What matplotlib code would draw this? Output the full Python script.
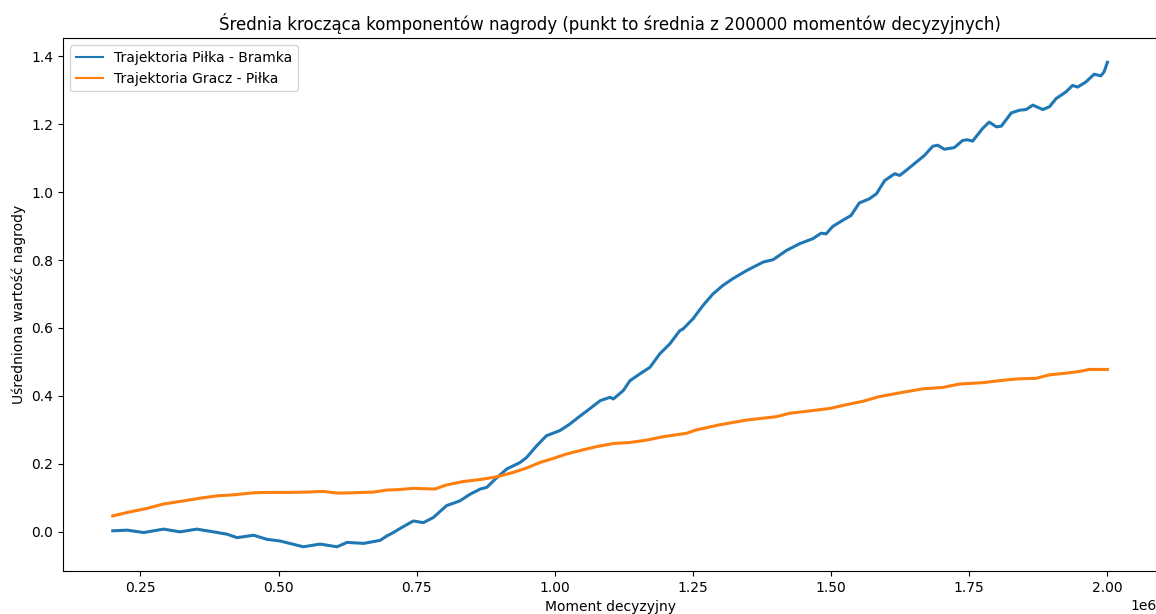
import numpy as np
import matplotlib
matplotlib.use("Agg")
import matplotlib.pyplot as plt

# ==============================
# DATA (x in millions of steps)
# ==============================

x_pilka_bramka = [0.200, 0.226, 0.256, 0.292, 0.322, 0.352, 0.382, 0.407, 0.425, 0.455,
                  0.479, 0.503, 0.545, 0.575, 0.606, 0.624, 0.654, 0.684, 0.696, 0.708,
                  0.720, 0.744, 0.762, 0.780, 0.804, 0.828, 0.847, 0.865, 0.877, 0.892,
                  0.913, 0.937, 0.949, 0.967, 0.985, 1.009, 1.027, 1.045, 1.063, 1.082,
                  1.100, 1.106, 1.124, 1.136, 1.154, 1.172, 1.190, 1.208, 1.226, 1.232,
                  1.250, 1.268, 1.286, 1.304, 1.322, 1.347, 1.359, 1.377, 1.395, 1.419,
                  1.443, 1.467, 1.482, 1.491, 1.503, 1.521, 1.536, 1.551, 1.569, 1.582,
                  1.597, 1.615, 1.624, 1.636, 1.654, 1.669, 1.684, 1.693, 1.705, 1.723,
                  1.738, 1.747, 1.756, 1.774, 1.786, 1.799, 1.808, 1.826, 1.841, 1.853,
                  1.865, 1.883, 1.895, 1.907, 1.925, 1.937, 1.946, 1.961, 1.976, 1.988,
                  1.994, 2.000]
y_pilka_bramka = [0.003, 0.005, -0.002, 0.008, 0.000, 0.008, 0.000, -0.007, -0.017, -0.010,
                  -0.022, -0.027, -0.044, -0.036, -0.044, -0.031, -0.034, -0.025, -0.012, -0.002,
                  0.010, 0.032, 0.027, 0.042, 0.077, 0.091, 0.111, 0.126, 0.131, 0.155,
                  0.185, 0.204, 0.219, 0.253, 0.283, 0.298, 0.317, 0.340, 0.362, 0.386,
                  0.396, 0.391, 0.416, 0.445, 0.465, 0.484, 0.524, 0.553, 0.592, 0.597,
                  0.627, 0.666, 0.700, 0.725, 0.745, 0.769, 0.779, 0.794, 0.801, 0.828,
                  0.848, 0.863, 0.879, 0.877, 0.899, 0.917, 0.931, 0.968, 0.980, 0.995,
                  1.034, 1.054, 1.049, 1.064, 1.088, 1.108, 1.135, 1.138, 1.126, 1.131,
                  1.152, 1.154, 1.150, 1.187, 1.206, 1.192, 1.194, 1.233, 1.241, 1.243,
                  1.256, 1.243, 1.251, 1.275, 1.295, 1.314, 1.309, 1.324, 1.347, 1.342,
                  1.354, 1.382]

x_gracz_pilka = [0.200, 0.226, 0.262, 0.292, 0.328, 0.358, 0.389, 0.419, 0.455, 0.479,
                 0.515, 0.551, 0.581, 0.606, 0.636, 0.672, 0.696, 0.714, 0.744, 0.783,
                 0.804, 0.834, 0.865, 0.895, 0.925, 0.949, 0.973, 0.997, 1.021, 1.045,
                 1.076, 1.106, 1.136, 1.166, 1.196, 1.238, 1.256, 1.298, 1.347, 1.401,
                 1.425, 1.467, 1.497, 1.527, 1.557, 1.587, 1.624, 1.666, 1.702, 1.732,
                 1.774, 1.805, 1.835, 1.871, 1.895, 1.925, 1.949, 1.967, 2.000]
y_gracz_pilka = [0.047, 0.057, 0.069, 0.082, 0.091, 0.099, 0.106, 0.109, 0.115, 0.116,
                 0.116, 0.117, 0.119, 0.114, 0.115, 0.117, 0.123, 0.124, 0.128, 0.126,
                 0.138, 0.148, 0.154, 0.162, 0.175, 0.188, 0.204, 0.216, 0.229, 0.239,
                 0.251, 0.260, 0.263, 0.270, 0.280, 0.290, 0.300, 0.315, 0.329, 0.339,
                 0.349, 0.357, 0.363, 0.374, 0.384, 0.398, 0.409, 0.421, 0.425, 0.435,
                 0.439, 0.445, 0.450, 0.452, 0.462, 0.467, 0.472, 0.478, 0.478]

# ==============================
# PLOT
# ==============================

fig = plt.figure(figsize=(11.56, 6.14), dpi=100)
ax = fig.add_axes([0.0545, 0.070, 0.9465, 0.868])
# original is cropped right at the right spine
ax.spines["right"].set_visible(False)

ax.plot(np.array(x_pilka_bramka) * 1e6, y_pilka_bramka, color="#1f77b4",
        lw=2.2, label="Trajektoria Piłka - Bramka")
ax.plot(np.array(x_gracz_pilka) * 1e6, y_gracz_pilka, color="#ff7f0e",
        lw=2.2, label="Trajektoria Gracz - Piłka")

ax.set_title("Średnia krocząca komponentów nagrody (punkt to średnia z 200000 momentów decyzyjnych)")
ax.set_xlabel("Moment decyzyjny")
ax.set_ylabel("Uśredniona wartość nagrody")
leg = ax.legend(loc="upper left")
for h in leg.get_lines():
    h.set_linewidth(1.5)

fig.savefig("out.png", dpi=100)
